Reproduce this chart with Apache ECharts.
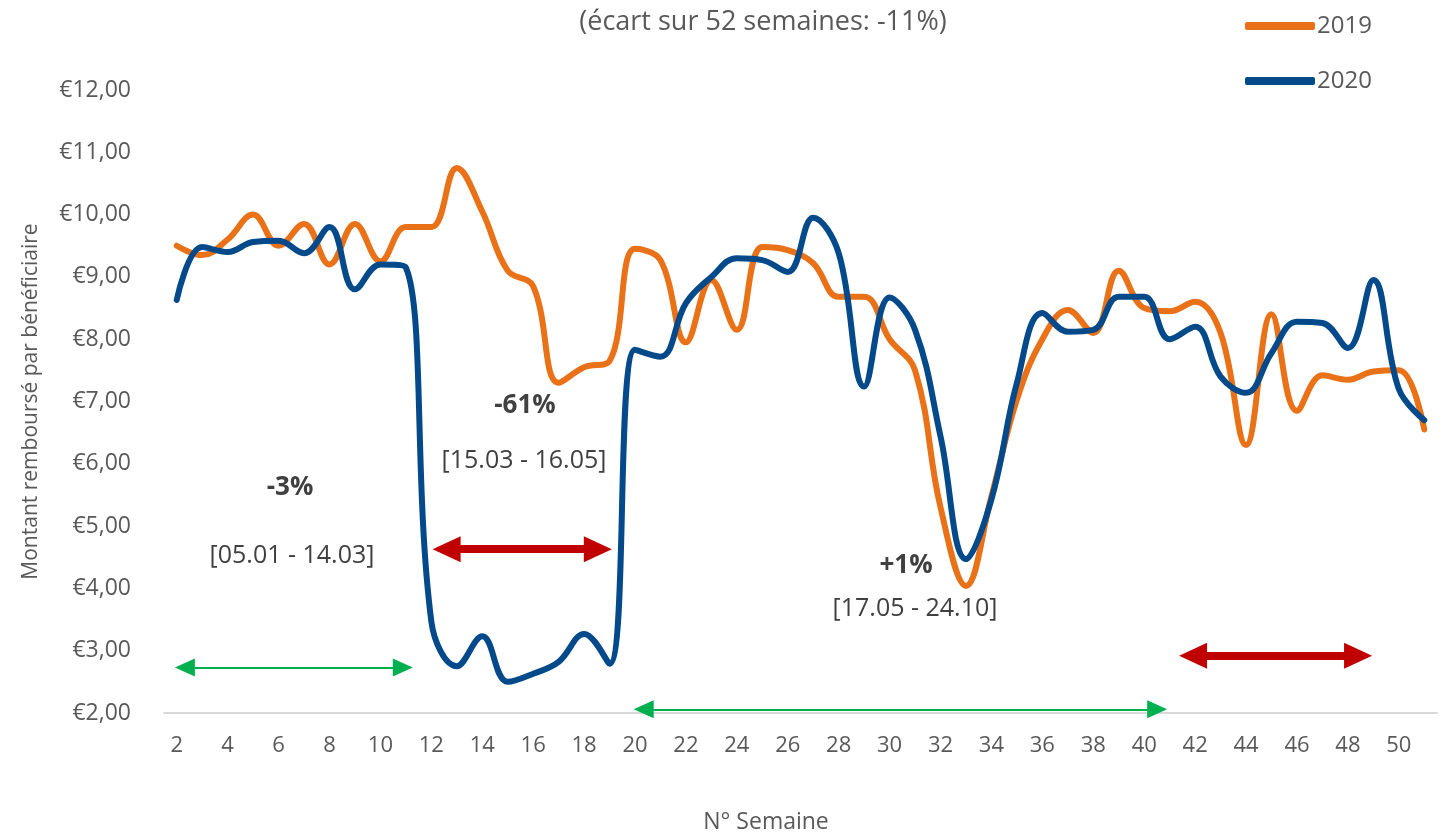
<!DOCTYPE html>
<html>
<head>
<meta charset="utf-8">
<script src="https://cdn.jsdelivr.net/npm/echarts@6/dist/echarts.min.js"></script>
<style>
html,body{margin:0;padding:0;background:#fff;}
#c{width:1448px;height:839px;}
</style>
</head>
<body>
<div id="c"></div>
<script>
const weeks = [2,3,4,5,6,7,8,9,10,11,12,13,14,15,16,17,18,19,20,21,22,23,24,25,26,27,28,29,30,31,32,33,34,35,36,37,38,39,40,41,42,43,44,45,46,47,48,49,50,51];
const s2019 = [9.5,9.35,9.6,10.0,9.5,9.85,9.2,9.85,9.25,9.8,9.8,10.75,10.05,9.1,8.85,7.3,7.55,7.65,9.45,9.27,7.95,8.95,8.15,9.48,9.43,9.22,8.68,8.68,8.0,7.5,5.3,4.04,5.48,7.03,8.0,8.47,8.1,9.1,8.5,8.45,8.6,8.1,6.3,8.4,6.85,7.42,7.35,7.48,7.5,6.55];
const s2020 = [8.63,9.48,9.4,9.56,9.58,9.38,9.8,8.8,9.2,9.15,3.47,2.75,3.23,2.5,2.63,2.82,3.27,2.79,7.83,7.72,8.58,9.0,9.3,9.27,9.08,9.95,9.38,7.24,8.67,8.15,6.44,4.47,5.43,7.3,8.42,8.12,8.15,8.68,8.68,8.0,8.2,7.4,7.14,7.78,8.28,8.26,7.86,8.95,7.2,6.7];
const seriesNames = ['2019','2020'];
const yTicks = {min:2, max:12, interval:1};
const titleText = '(écart sur 52 semaines: -11%)';
const yAxisTitle = 'Montant remboursé par bénéficiaire';
const xAxisTitle = 'N° Semaine';
// arrows: [fromWeek, toWeek, yValue] (line ends at the centre of each arrow head)
const greenArrows = [[2.32,10.88,2.73],[20.34,40.51,2.06]];
const redArrows = [[12.6,18.54,4.63],[41.92,48.4,2.92]];
const notes = [
  {pct:'-3%', range:'[05.01 - 14.03]'},
  {pct:'-61%', range:'[15.03 - 16.05]'},
  {pct:'+1%', range:'[17.05 - 24.10]'}
];

const FONT = '"Open Sans", "Noto Sans", sans-serif';
const GRAY = '#595959';
const chart = echarts.init(document.getElementById('c'));

function arrowLines(arr){
  return arr.map(a => [{coord:[a[0],a[2]]},{coord:[a[1],a[2]]}]);
}

const noteStyle = {fontFamily:FONT, fill:'#404040'};
const option = {
  animation:false,
  backgroundColor:'#fff',
  title:{
    text:titleText, left:758, top:4, textAlign:'center',
    textStyle:{fontFamily:FONT, fontSize:27, fontWeight:'normal', color:GRAY}
  },
  legend:{
    orient:'vertical', left:1240, top:9, itemWidth:70, itemHeight:8, itemGap:31,
    textStyle:{fontFamily:FONT, fontSize:24, color:GRAY, padding:[0,0,0,-3]},
    data:seriesNames.map(n=>({name:n, icon:'roundRect'}))
  },
  grid:{left:164, right:11, top:90, bottom:126, containLabel:false},
  xAxis:[{
    type:'category', data:weeks, boundaryGap:true,
    axisLine:{lineStyle:{color:'#d9d9d9', width:2}},
    axisTick:{interval:1, length:8, lineStyle:{color:'#d9d9d9', width:2}},
    axisLabel:{interval:1, fontFamily:FONT, fontSize:22, color:GRAY, margin:22}
  },{
    type:'value', min:1.5, max:51.5, show:false
  }],
  yAxis:{
    type:'value', min:yTicks.min, max:yTicks.max, interval:yTicks.interval,
    name:yAxisTitle, nameLocation:'middle', nameGap:122,
    nameTextStyle:{fontFamily:FONT, fontSize:21, color:GRAY},
    axisLine:{show:false}, axisTick:{show:false}, splitLine:{show:false},
    axisLabel:{fontFamily:FONT, fontSize:23, color:GRAY, margin:33,
      formatter:v=>'€'+v.toFixed(2).replace('.',',')}
  },
  series:[
    {name:seriesNames[0], type:'line', data:s2019, smooth:0.4, symbol:'none',
     lineStyle:{color:'#E97118', width:6, cap:'round'}, itemStyle:{color:'#E97118'}, z:2},
    {name:seriesNames[1], type:'line', data:s2020, smooth:0.4, symbol:'none',
     lineStyle:{color:'#044A8B', width:6, cap:'round'}, itemStyle:{color:'#044A8B'}, z:3},
    {name:'arrows-green', type:'line', xAxisIndex:1, data:[], silent:true,
     markLine:{silent:true, symbol:['triangle','triangle'], symbolSize:[18,20],
       lineStyle:{color:'#00B050', width:2, type:'solid'}, itemStyle:{color:'#00B050'},
       label:{show:false}, data:arrowLines(greenArrows)}},
    {name:'arrows-red', type:'line', xAxisIndex:1, data:[], silent:true, z:4,
     markLine:{silent:true, symbol:['triangle','triangle'], symbolSize:[26,28],
       lineStyle:{color:'#C00000', width:8, type:'solid'}, itemStyle:{color:'#C00000'},
       label:{show:false}, data:arrowLines(redArrows)}}
  ],
  graphic:[
    {type:'text', x:290, y:488, style:Object.assign({text:notes[0].pct, fontSize:26, fontWeight:'bold', align:'center', verticalAlign:'middle'}, noteStyle)},
    {type:'text', x:292, y:556, style:Object.assign({text:notes[0].range, fontSize:25, align:'center', verticalAlign:'middle'}, noteStyle)},
    {type:'text', x:525, y:406, style:Object.assign({text:notes[1].pct, fontSize:26, fontWeight:'bold', align:'center', verticalAlign:'middle'}, noteStyle)},
    {type:'text', x:524, y:461, style:Object.assign({text:notes[1].range, fontSize:25, align:'center', verticalAlign:'middle'}, noteStyle)},
    {type:'text', x:906, y:566, style:Object.assign({text:notes[2].pct, fontSize:26, fontWeight:'bold', align:'center', verticalAlign:'middle'}, noteStyle)},
    {type:'text', x:915, y:609, style:Object.assign({text:notes[2].range, fontSize:25, align:'center', verticalAlign:'middle'}, noteStyle)},
    {type:'text', x:766, y:822, style:{text:xAxisTitle, fontFamily:FONT, fontSize:23, fill:GRAY, align:'center', verticalAlign:'middle'}}
  ]
};
chart.setOption(option);
</script>
</body>
</html>
